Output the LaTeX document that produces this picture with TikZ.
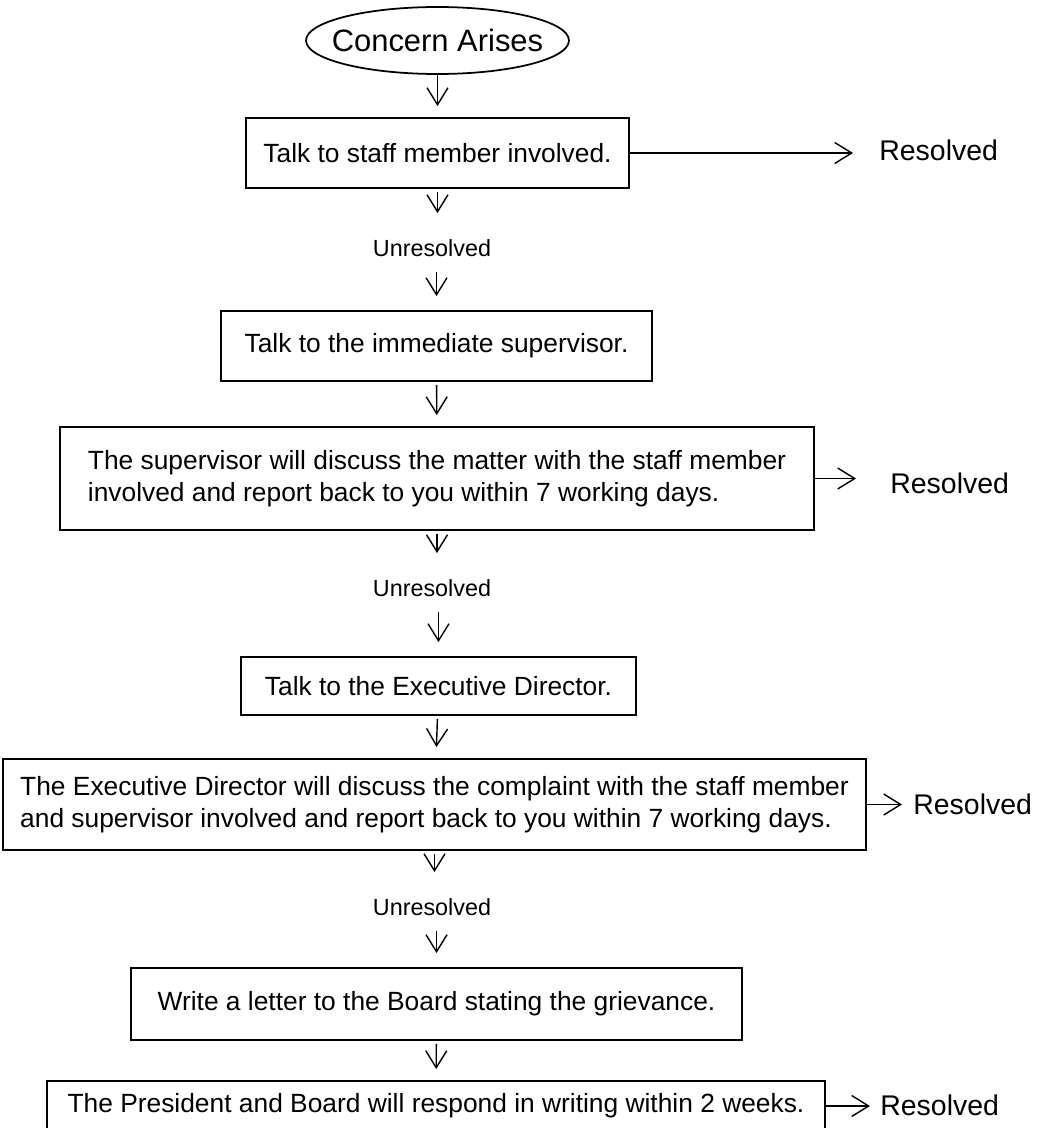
\documentclass[tikz,border=0pt]{standalone}
\usepackage{fontspec}
\setmainfont{Liberation Sans}
\usetikzlibrary{arrows.meta,shapes.geometric}

\begin{document}
\begin{tikzpicture}[x=0.02cm, y=-0.02cm,
  stepbox/.style={draw, line width=1.1pt, align=left, inner sep=0pt, font=\fontsize{15}{18.4}\selectfont},
  oval/.style={ellipse, draw, line width=1pt, inner xsep=-0.4cm, inner ysep=0pt, minimum width=5.26cm, minimum height=1.34cm, font=\fontsize{17.6}{20}\selectfont},
  res/.style={anchor=west, inner sep=0pt, font=\fontsize{16.2}{19}\selectfont},
  unres/.style={inner sep=0pt, font=\fontsize{13.3}{16}\selectfont},
  flow/.style={-{Straight Barb[length=0.34cm,width=0.42cm]}, line width=0.8pt}]
  \useasboundingbox (0,0) rectangle (1063,1128);

  \node[oval] (c) at (437.5,40.5) {Concern Arises};
  \node[stepbox, minimum width=7.66cm, minimum height=1.4cm] (b1) at (437.5,153) {Talk to staff member involved.};
  \node[unres] (u1) at (432,248) {Unresolved};
  \node[stepbox, minimum width=8.62cm, minimum height=1.4cm] (b2) at (436.5,346) {Talk to the immediate supervisor.};
  \node[stepbox, minimum width=15.08cm, minimum height=2.06cm] (b3) at (437,478.5) {The supervisor will discuss the matter with the staff member\\involved and report back to you within 7 working days.};
  \node[unres] (u2) at (432,588) {Unresolved};
  \node[stepbox, minimum width=7.9cm, minimum height=1.16cm] (b4) at (438.5,686) {Talk to the Executive Director.};
  \node[stepbox, minimum width=17.26cm, minimum height=1.82cm] (b5) at (434.5,804.5) {The Executive Director will discuss the complaint with the staff member\\and supervisor involved and report back to you within 7 working days.};
  \node[unres] (u3) at (432,907) {Unresolved};
  \node[stepbox, minimum width=12.22cm, minimum height=1.44cm] (b6) at (436.5,1004) {Write a letter to the Board stating the grievance.};
  \node[stepbox, minimum width=15.56cm, minimum height=1cm] (b7) at (436,1106) {The President and Board will respond in writing within 2 weeks.};

  \node[res] (r1) at (879,150) {Resolved};
  \node[res] (r3) at (890,483) {Resolved};
  \node[res] (r5) at (913,804) {Resolved};
  \node[res] (r7) at (880,1105) {Resolved};

  \draw[flow, shorten >=0.22cm] (c) -- (b1);
  \foreach \a/\b in {b2/b3, b4/b5, b6/b7}{ \draw[flow, shorten <=0.06cm, shorten >=0.22cm] (\a) -- (\b); }
  \foreach \a/\u in {b1/u1, b3/u2, b5/u3}{ \draw[flow, shorten <=0.06cm, shorten >=0.52cm] (\a.south) -- (\a.south |- \u.north); }
  \foreach \u/\b in {u1/b2, u2/b4, u3/b6}{ \draw[flow, shorten <=0.3cm, shorten >=0.28cm] (\b.north |- \u.south) -- (\b.north); }
  \foreach \b/\r/\s in {b1/r1/0.52cm, b3/r3/0.68cm, b5/r5/0.22cm, b7/r7/0.2cm}{ \draw[flow, shorten >=\s] (\b.east) -- (\b.east -| \r.west); }
\end{tikzpicture}
\end{document}
